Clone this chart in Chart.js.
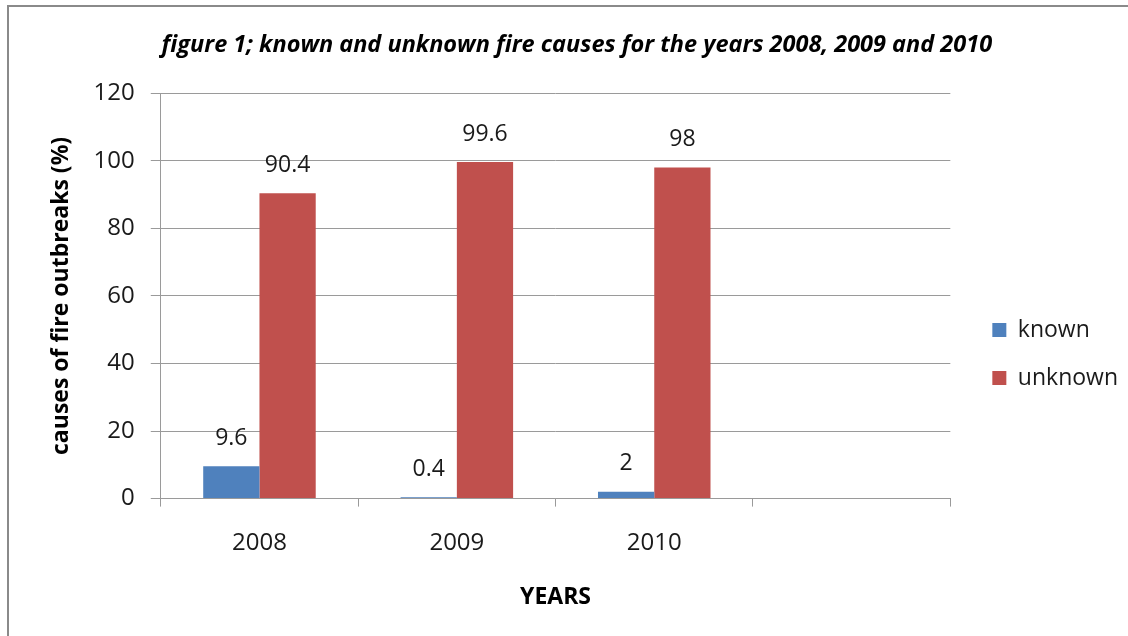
<!DOCTYPE html>
<html>
<head>
<meta charset="utf-8">
<script src="https://cdn.jsdelivr.net/npm/chart.js@4.4.1/dist/chart.umd.min.js"></script>
<style>
  html, body { margin: 0; padding: 0; background: #fff; overflow: hidden; }
  #wrap { position: absolute; left: 0; top: 0; width: 1128px; height: 636px; }
  #frame { position: absolute; left: 7px; top: 5px; width: 1200px; height: 700px; border: 2px solid #8a8a8a; box-sizing: border-box; pointer-events: none; }
  canvas { position: absolute; left: 0; top: 0; }
</style>
</head>
<body>
<div id="wrap">
  <canvas id="c" width="1128" height="636"></canvas>
  <div id="frame"></div>
</div>
<script>
const categories = ['2008', '2009', '2010', ''];
const knownValues = [9.6, 0.4, 2, null];
const unknownValues = [90.4, 99.6, 98, null];
const seriesNames = ['known', 'unknown'];
const yTicks = [0, 20, 40, 60, 80, 100, 120];
const titleText = 'figure 1; known and unknown fire causes for the years 2008, 2009 and 2010';
const yTitle = 'causes of fire outbreaks (%)';
const xTitle = 'YEARS';

const FONT = '"Open Sans", Lato, sans-serif';

const valueLabels = {
  id: 'valueLabels',
  afterDatasetsDraw(chart) {
    const ctx = chart.ctx;
    ctx.save();
    ctx.font = '23px ' + FONT;
    ctx.fillStyle = '#1a1a1a';
    ctx.textAlign = 'center';
    ctx.textBaseline = 'middle';
    chart.data.datasets.forEach((ds, di) => {
      const meta = chart.getDatasetMeta(di);
      meta.data.forEach((bar, i) => {
        const v = ds.data[i];
        if (v === null || v === undefined) return;
        ctx.fillText(String(v), bar.x, bar.y - 28);
      });
    });
    ctx.restore();
  }
};

new Chart(document.getElementById('c'), {
  type: 'bar',
  data: {
    labels: categories,
    datasets: [
      { label: seriesNames[0], data: knownValues, backgroundColor: '#4f81bd', borderWidth: 0 },
      { label: seriesNames[1], data: unknownValues, backgroundColor: '#c0504d', borderWidth: 0 }
    ]
  },
  options: {
    responsive: false,
    animation: false,
    devicePixelRatio: 1,
    layout: { padding: { left: 44, right: 0, top: 18, bottom: 21 } },
    datasets: { bar: { categoryPercentage: 0.57, barPercentage: 1.0 } },
    plugins: {
      title: {
        display: true,
        text: titleText + '\u00a0\u00a0\u00a0',
        color: '#000',
        font: { family: FONT, size: 23.5, style: 'italic', weight: 'bold' },
        padding: { top: 13, bottom: 34 }
      },
      legend: {
        display: true,
        position: 'right',
        align: 'center',
        title: { display: true, text: ' ', font: { size: 10 }, padding: { top: 38, bottom: 38 } },
        labels: {
          color: '#1a1a1a',
          font: { family: FONT, size: 23, lineHeight: 1.565 },
          boxWidth: 14,
          boxHeight: 14,
          padding: 12,
          generateLabels(chart) {
            const items = Chart.defaults.plugins.legend.labels.generateLabels(chart);
            return items.map(it => Object.assign(it, { text: [it.text] }));
          }
        }
      },
      tooltip: { enabled: false }
    },
    scales: {
      x: {
        grid: { display: true, drawOnChartArea: false, drawTicks: true, tickLength: 8, color: '#9a9a9a', offset: true },
        border: { display: true, color: '#9a9a9a', width: 1 },
        ticks: { color: '#1a1a1a', font: { family: FONT, size: 24 }, padding: 22 },
        title: { display: true, text: xTitle, color: '#000', font: { family: FONT, size: 23, weight: 'bold' }, padding: { top: 4 } }
      },
      y: {
        min: 0, max: 120,
        afterBuildTicks(axis) { axis.ticks = yTicks.map(v => ({ value: v })); },
        grid: { color: '#9a9a9a', drawTicks: true, tickLength: 10 },
        border: { display: true, color: '#9a9a9a', width: 1 },
        ticks: { color: '#1a1a1a', font: { family: FONT, size: 24 }, padding: 16 },
        title: { display: true, text: yTitle, color: '#000', font: { family: FONT, size: 23, weight: 'bold' }, padding: { bottom: 2 } }
      },
      spacer: {
        type: 'linear',
        position: 'right',
        display: true,
        grid: { display: false },
        border: { display: false },
        ticks: { display: false },
        afterFit(axis) { axis.width = 30; }
      }
    }
  },
  plugins: [valueLabels]
});
</script>
</body>
</html>
